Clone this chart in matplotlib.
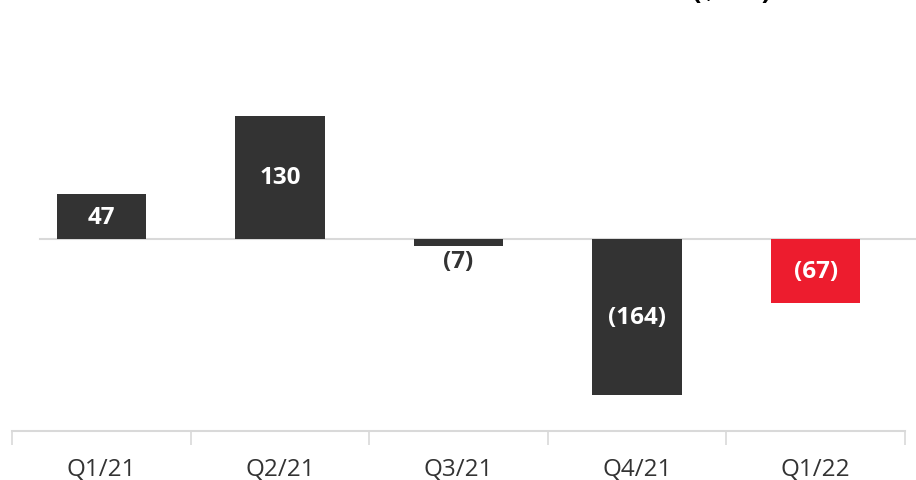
import matplotlib
matplotlib.use('Agg')
import matplotlib.pyplot as plt

plt.rcParams['font.family'] = ['Open Sans', 'DejaVu Sans']

# Quarterly values
quarters = ['Q1/21', 'Q2/21', 'Q3/21', 'Q4/21', 'Q1/22']
values = [47, 130, -7, -164, -67]
colors = ['#333333', '#333333', '#333333', '#333333', '#ed1c2e']

fig = plt.figure(figsize=(9.16, 4.81), dpi=100)
ax = fig.add_axes([12 / 916, 49 / 481, 893 / 916, 432 / 481])

x = list(range(len(quarters)))
bars = ax.bar(x, values, width=0.5, color=colors, zorder=2)

ax.set_xlim(-0.5, len(quarters) - 0.5)
ax.set_ylim(-202, 252.6)

# zero line
ax.axhline(0, xmin=0.031, xmax=1.012, color='#d9d9d9', lw=1.5, clip_on=False, zorder=1)

# value labels
for xi, v in zip(x, values):
    txt = f'{v}' if v >= 0 else f'({-v})'
    if abs(v) < 20:
        ax.text(xi, v - 4, txt, ha='center', va='top', color='#333333',
                fontsize=17.5, fontweight='bold')
    else:
        ax.text(xi, v / 2, txt, ha='center', va='center', color='white',
                fontsize=17.5, fontweight='bold')

# title mostly cut off at the top edge in the original
fig.text(772 / 916, 1 + 1.5 / 481, '($mn)', ha='right', va='baseline',
         fontsize=20, fontweight='bold', color='black')

# category axis
for s in ['top', 'right', 'left']:
    ax.spines[s].set_visible(False)
ax.spines['bottom'].set_color('#d9d9d9')
ax.spines['bottom'].set_linewidth(1.5)
ax.set_yticks([])
ax.set_xticks([i - 0.5 for i in range(len(quarters) + 1)])
ax.set_xticklabels([])
ax.tick_params(axis='x', which='major', length=10, width=1.2, color='#d9d9d9')
ax.set_xticks(x, minor=True)
ax.set_xticklabels(quarters, minor=True)
ax.tick_params(axis='x', which='minor', length=0, pad=19, labelsize=17.5, labelcolor='#333333')

fig.savefig('out.png', dpi=100)
